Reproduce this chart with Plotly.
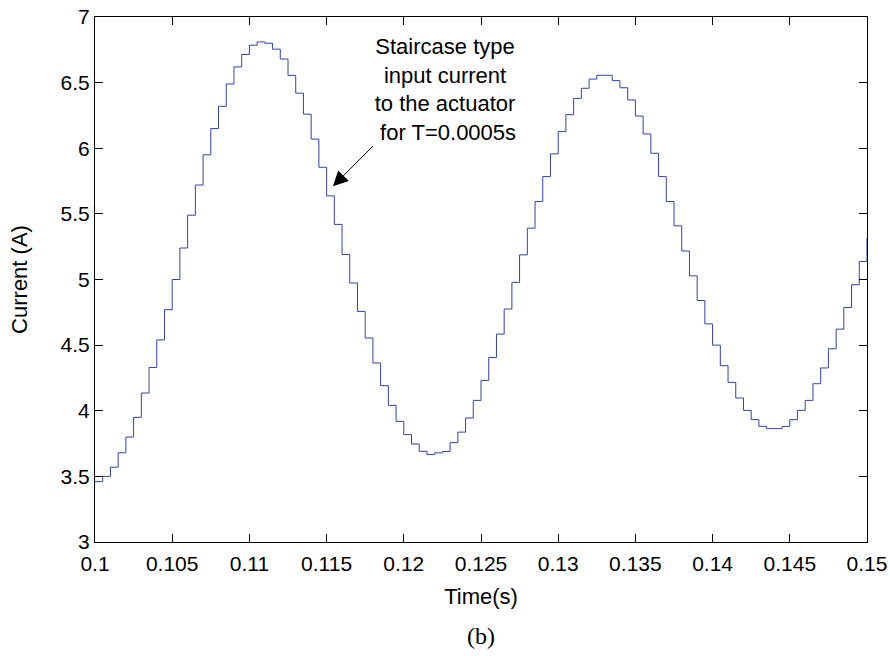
import plotly.graph_objects as go

# sample instants (T = 0.0005 s) and held current values
t_start = 0.1
t_step = 0.0005
current = [
    3.46, 3.50, 3.57, 3.68, 3.80, 3.95, 4.135, 4.33, 4.54, 4.77,
    5.00, 5.24, 5.49, 5.72, 5.95, 6.15, 6.32, 6.49, 6.62, 6.715,
    6.785, 6.81, 6.80, 6.755, 6.68, 6.555, 6.42, 6.26, 6.07, 5.855,
    5.637, 5.42, 5.19, 4.973, 4.757, 4.554, 4.364, 4.191, 4.041, 3.919,
    3.818, 3.747, 3.691, 3.666, 3.679, 3.69, 3.757, 3.837, 3.945, 4.079,
    4.231, 4.406, 4.584, 4.775, 4.978, 5.188, 5.391, 5.594, 5.784, 5.957,
    6.127, 6.256, 6.38, 6.457, 6.527, 6.556, 6.556, 6.515, 6.461, 6.368,
    6.245, 6.109, 5.962, 5.784, 5.594, 5.409, 5.217, 5.028, 4.84, 4.662,
    4.50, 4.343, 4.216, 4.097, 4.003, 3.932, 3.881, 3.864, 3.864, 3.881,
    3.932, 4.003, 4.079, 4.206, 4.326, 4.472, 4.622, 4.787, 4.96, 5.137,
    5.315,
]
time = [round(t_start + k * t_step, 4) for k in range(len(current))]

x_ticks = [0.1, 0.105, 0.11, 0.115, 0.12, 0.125, 0.13, 0.135, 0.14, 0.145, 0.15]
x_tick_text = ['0.1', '0.105', '0.11', '0.115', '0.12', '0.125', '0.13', '0.135', '0.14', '0.145', '0.15']
y_ticks = [3, 3.5, 4, 4.5, 5, 5.5, 6, 6.5, 7]
y_tick_text = ['3', '3.5', '4', '4.5', '5', '5.5', '6', '6.5', '7']

note = "Staircase type<br>input current<br>to the actuator<br> for T=0.0005s"
note_pos = (0.1227, 6.45)
arrow_tip = (0.11541, 5.71)
arrow_tail = (0.11820, 6.04)

sans = "Liberation Sans, Arial, sans-serif"

fig = go.Figure()

fig.add_trace(go.Scatter(
    x=time,
    y=current,
    mode='lines',
    line=dict(color='#3440a8', width=1, shape='hv'),
    showlegend=False,
    hoverinfo='x+y',
))

axis_style = dict(
    showline=True, linecolor='black', linewidth=1, mirror='ticks',
    ticks='inside', ticklen=8, tickcolor='black', showgrid=False, zeroline=False,
    tickfont=dict(family=sans, size=21, color='black'), automargin=False,
    ticklabeloverflow='allow',
)

fig.update_xaxes(
    range=[0.1, 0.15], tickvals=x_ticks, ticktext=x_tick_text, ticklabelstandoff=3,
    title=dict(text='Time(s)', font=dict(family=sans, size=22, color='black'), standoff=14),
    **axis_style
)
fig.update_yaxes(
    range=[3, 7], tickvals=y_ticks, ticktext=y_tick_text,
    title=dict(text='Current (A)', font=dict(family=sans, size=22, color='black'), standoff=26),
    **axis_style
)

# annotation text
fig.add_annotation(
    x=note_pos[0], y=note_pos[1], xref='x', yref='y', text=note, showarrow=False,
    font=dict(family=sans, size=22, color='black'), align='center',
)
# arrow
fig.add_annotation(
    x=arrow_tip[0], y=arrow_tip[1], xref='x', yref='y', text=' ',
    showarrow=True, axref='x', ayref='y', ax=arrow_tail[0], ay=arrow_tail[1],
    arrowhead=2, arrowsize=3, arrowwidth=1, arrowcolor='black',
)
# panel label
fig.add_annotation(
    x=0.5, y=-0.207, xref='paper', yref='paper', text='(b)', showarrow=False,
    font=dict(family='Liberation Serif, Times New Roman, serif', size=24, color='black'),
)

fig.update_layout(
    width=890, height=656,
    margin=dict(l=95, r=23, t=17, b=114),
    plot_bgcolor='white', paper_bgcolor='white',
)

fig.write_html("out.html", config={'displayModeBar': False},
               post_script="document.body.style.margin='0';")
